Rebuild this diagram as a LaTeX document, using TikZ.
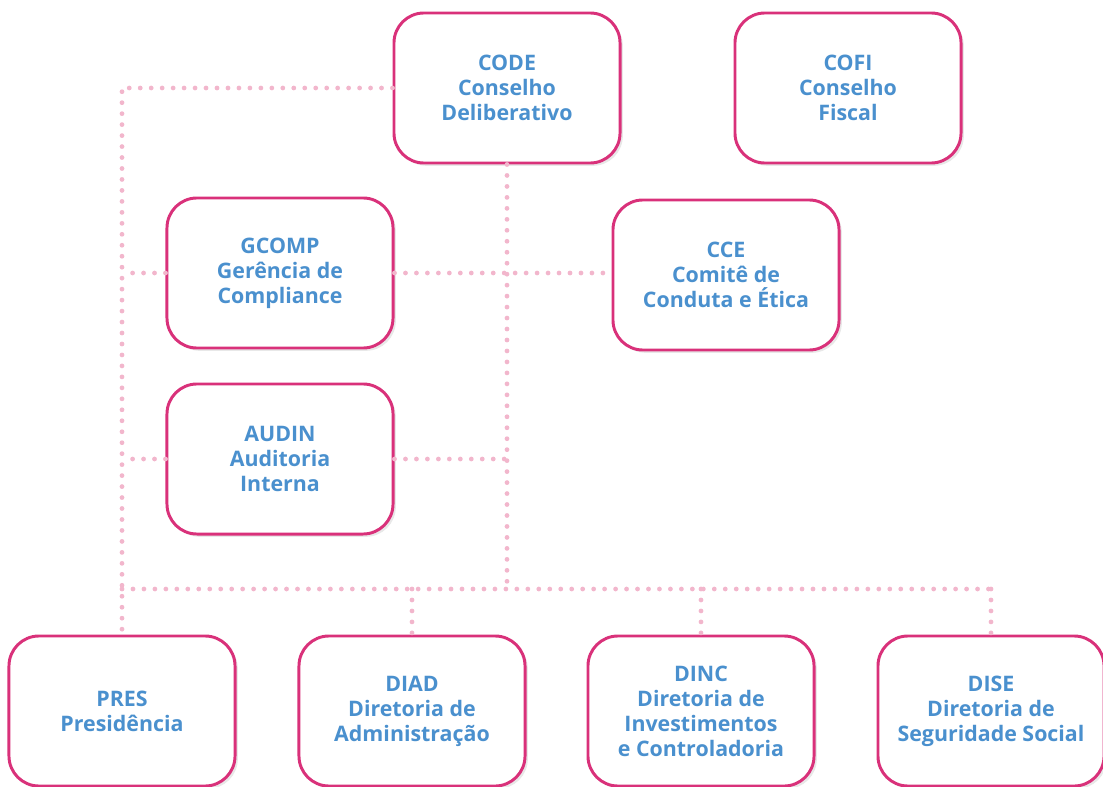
\documentclass[tikz,border=0pt]{standalone}
\usepackage{fontspec}
\setmainfont{Open Sans}
\usetikzlibrary{shadows}

\definecolor{boxline}{HTML}{D9317A}
\definecolor{boxtext}{HTML}{4A90CE}
\definecolor{dotline}{HTML}{F2B6CC}

\tikzset{
    unit/.style={draw=boxline, line width=2.1pt, fill=white, rounded corners=0.75cm,
        minimum width=5.65cm, minimum height=3.75cm, align=center,
        text=boxtext, font=\fontsize{15.2}{17.8}\selectfont\bfseries,
        drop shadow={opacity=0.18, shadow xshift=2pt, shadow yshift=-2pt}},
    dots/.style={dotline, line width=3.4pt, line cap=round, dash pattern=on 0pt off 7.8pt}
}

\begin{document}
\begin{tikzpicture}[x=0.025cm, y=-0.025cm]
    \useasboundingbox (0,0) rectangle (1103,787);

    % top: boards
    \node[unit] (code) at (507,88) {CODE\\Conselho\\Deliberativo};
    \node[unit] (cofi) at (848,88) {COFI\\Conselho\\Fiscal};

    % middle
    \node[unit] (gcomp) at (280,273) {GCOMP\\Gerência de\\Compliance};
    \node[unit] (cce) at (726,275) {CCE\\Comitê de\\Conduta e Ética};
    \node[unit] (audin) at (280,459) {AUDIN\\Auditoria\\Interna};

    % bottom: directors
    \node[unit] (pres) at (122,711) {PRES\\Presidência};
    \node[unit] (diad) at (412,711) {DIAD\\Diretoria de\\Administração};
    \node[unit] (dinc) at (701,711) {DINC\\Diretoria de\\Investimentos\\e Controladoria};
    \node[unit] (dise) at (991,711) {DISE\\Diretoria de\\Seguridade Social};

    \coordinate (bus) at (0,589);

    % dotted connectors
    \draw[dots] (code.west) -| (pres.north);
    \draw[dots] (gcomp.west) -- (gcomp.west -| pres.north);
    \draw[dots] (audin.west) -- (audin.west -| pres.north);
    \draw[dots] (code.south) -- (code.south |- bus);
    \draw[dots] (gcomp.east) -- (gcomp.east -| cce.west);
    \draw[dots] (audin.east) -- (audin.east -| code.south);
    \draw[dots] (pres.north |- bus) -- (dise.north |- bus);
    \foreach \n in {diad,dinc,dise}
        \draw[dots] (\n.north |- bus) -- (\n.north);
\end{tikzpicture}
\end{document}
